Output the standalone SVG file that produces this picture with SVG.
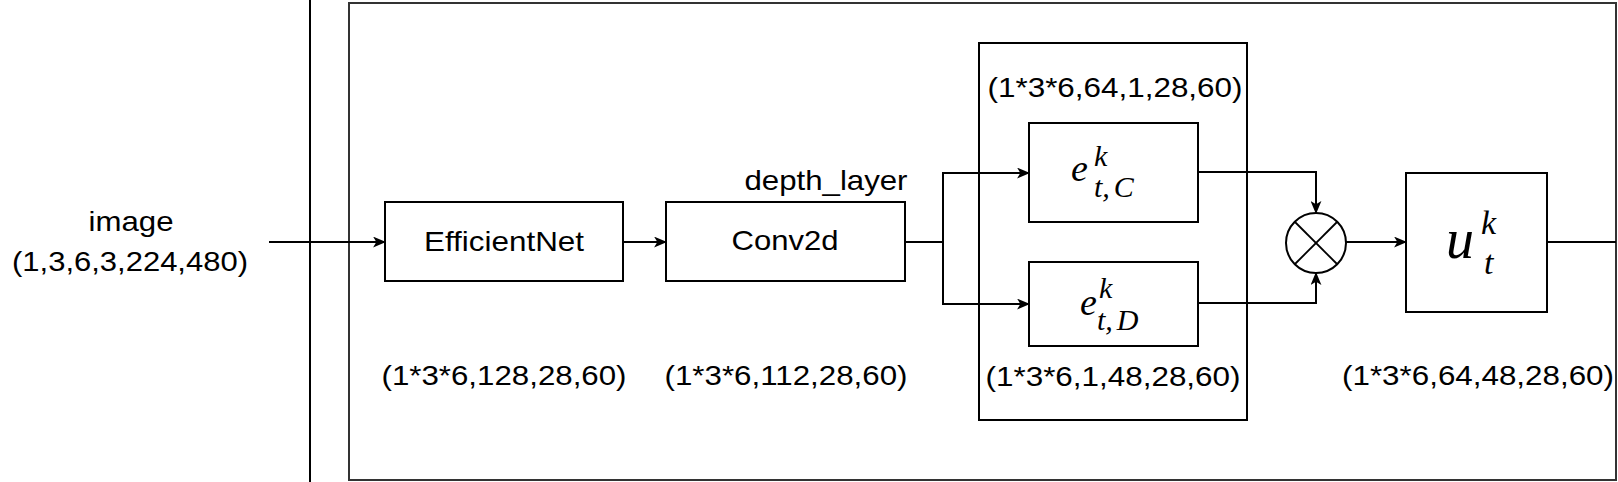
<svg xmlns="http://www.w3.org/2000/svg" width="1618" height="482" viewBox="0 0 1618 482">
  <defs>
    <marker id="arrow" viewBox="0 0 12 10" refX="11" refY="5" markerWidth="13" markerHeight="11" markerUnits="userSpaceOnUse" orient="auto">
      <path d="M0,0 L12,5 L0,10 L3,5 Z" fill="#000"/>
    </marker>
  </defs>
  <style>
    .box { fill: #fff; stroke: #000; stroke-width: 2; }
    .frame { fill: none; stroke: #333; stroke-width: 2; }
    .edge { fill: none; stroke: #000; stroke-width: 2; }
    .arrow { marker-end: url(#arrow); }
    .lbl { font-family: "Liberation Sans", Arial, Helvetica, sans-serif; font-size: 28px; fill: #000; text-anchor: middle; }
    .math { font-family: "Liberation Serif", "Times New Roman", serif; font-style: italic; fill: #000; }
  </style>
  <rect width="1618" height="482" fill="#fff"/>

  <g id="divider">
    <line x1="310" y1="0" x2="310" y2="482" stroke="#000" stroke-width="2"/>
  </g>
  <g id="outer-frame">
    <rect class="frame" x="349" y="3" width="1267" height="477"/>
  </g>
  <g id="inner-frame">
    <rect class="box" x="979" y="43" width="268" height="377"/>
  </g>

  <g id="image-label">
    <text class="lbl" x="131" y="231" textLength="85" lengthAdjust="spacingAndGlyphs">image</text>
    <text class="lbl" x="130" y="271" textLength="236" lengthAdjust="spacingAndGlyphs">(1,3,6,3,224,480)</text>
  </g>

  <g id="efficientnet">
    <rect class="box" x="385" y="202" width="238" height="79"/>
    <text class="lbl" x="504" y="251" textLength="160" lengthAdjust="spacingAndGlyphs">EfficientNet</text>
    <text class="lbl" x="504" y="385" textLength="245" lengthAdjust="spacingAndGlyphs">(1*3*6,128,28,60)</text>
  </g>

  <g id="conv2d">
    <rect class="box" x="666" y="202" width="239" height="79"/>
    <text class="lbl" x="785" y="250" textLength="107" lengthAdjust="spacingAndGlyphs">Conv2d</text>
    <text class="lbl" x="826" y="190" textLength="163" lengthAdjust="spacingAndGlyphs">depth_layer</text>
    <text class="lbl" x="786" y="385" textLength="243" lengthAdjust="spacingAndGlyphs">(1*3*6,112,28,60)</text>
  </g>

  <g id="e-tc">
    <rect class="box" x="1029" y="123" width="169" height="99"/>
    <text class="math" x="1071" y="181" font-size="38">e<tspan font-size="30" dx="6" dy="-15">k</tspan><tspan font-size="30" dx="-13.3" dy="31">t,</tspan><tspan font-size="30" dx="4">C</tspan></text>
    <text class="lbl" x="1115" y="97" textLength="255" lengthAdjust="spacingAndGlyphs">(1*3*6,64,1,28,60)</text>
  </g>

  <g id="e-td">
    <rect class="box" x="1029" y="262" width="169" height="84"/>
    <text class="math" x="1080" y="315" font-size="38">e<tspan font-size="30" dx="2" dy="-17">k</tspan><tspan font-size="30" dx="-15.3" dy="32">t,</tspan><tspan font-size="30" dx="4">D</tspan></text>
    <text class="lbl" x="1113" y="386" textLength="255" lengthAdjust="spacingAndGlyphs">(1*3*6,1,48,28,60)</text>
  </g>

  <g id="multiply">
    <circle cx="1316" cy="243" r="30" fill="#fff" stroke="#000" stroke-width="2"/>
    <line x1="1295" y1="222" x2="1337" y2="264" stroke="#000" stroke-width="1.8"/>
    <line x1="1337" y1="222" x2="1295" y2="264" stroke="#000" stroke-width="1.8"/>
  </g>

  <g id="u-t">
    <rect class="box" x="1406" y="173" width="141" height="139"/>
    <text class="math" x="1446" y="258" font-size="56">u<tspan font-size="34" dx="7" dy="-24">k</tspan><tspan font-size="34" dx="-12.1" dy="40">t</tspan></text>
    <text class="lbl" x="1478" y="385" textLength="272" lengthAdjust="spacingAndGlyphs">(1*3*6,64,48,28,60)</text>
  </g>

  <g id="connectors">
    <path class="edge arrow" d="M269,242 L385,242"/>
    <path class="edge arrow" d="M623,242 L666,242"/>
    <path class="edge arrow" d="M905,242 L943,242 L943,173 L1029,173"/>
    <path class="edge arrow" d="M943,242 L943,304 L1029,304"/>
    <path class="edge arrow" d="M1198,172 L1316,172 L1316,213"/>
    <path class="edge arrow" d="M1198,303 L1316,303 L1316,273"/>
    <path class="edge arrow" d="M1346,242 L1406,242"/>
    <path class="edge" d="M1547,242 L1616,242"/>
  </g>
</svg>
